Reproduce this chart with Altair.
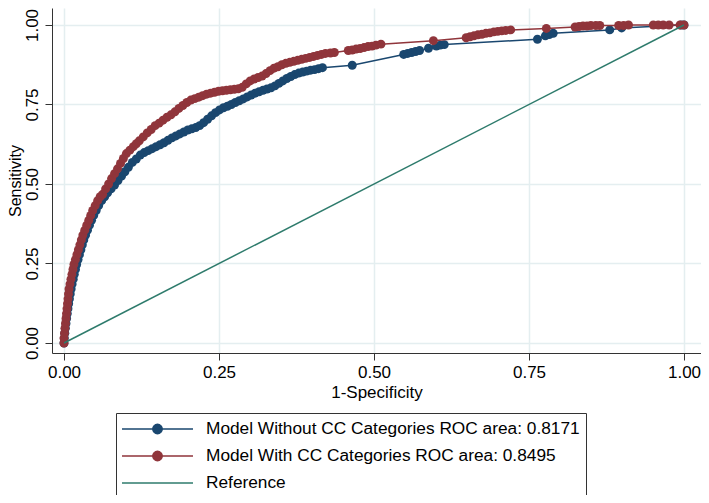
import altair as alt
import pandas as pd

# ROC points: (1-specificity, sensitivity)
without_cc = [
    (0, 0), (0.0005, 0.0154), (0.0013, 0.0309), (0.0021, 0.0463), (0.0032, 0.0617),
    (0.0042, 0.0772), (0.0053, 0.0926), (0.0064, 0.1080), (0.0075, 0.1235), (0.0088, 0.1389),
    (0.0101, 0.1543), (0.0115, 0.1698), (0.0131, 0.1852), (0.0149, 0.2006), (0.0166, 0.2160),
    (0.0185, 0.2315), (0.0204, 0.2469), (0.0227, 0.2623), (0.0249, 0.2778), (0.0272, 0.2932),
    (0.0296, 0.3086), (0.0319, 0.3241), (0.0348, 0.3395), (0.0379, 0.3549), (0.0411, 0.3704),
    (0.0444, 0.3858), (0.0479, 0.4012), (0.0519, 0.4167), (0.0559, 0.4321), (0.0607, 0.4475),
    (0.0655, 0.4599), (0.0703, 0.4722), (0.0759, 0.4846), (0.0815, 0.4969), (0.0871, 0.5108),
    (0.0927, 0.5247), (0.0982, 0.5386), (0.1038, 0.5525), (0.1102, 0.5679), (0.1166, 0.5787),
    (0.1230, 0.5910), (0.1294, 0.5988), (0.1358, 0.6049), (0.1422, 0.6111), (0.1486, 0.6173),
    (0.1550, 0.6235), (0.1613, 0.6296), (0.1677, 0.6373), (0.1741, 0.6451), (0.1805, 0.6512),
    (0.1869, 0.6574), (0.1933, 0.6636), (0.1997, 0.6698), (0.2061, 0.6735), (0.2125, 0.6775),
    (0.2188, 0.6836), (0.2252, 0.6929), (0.2316, 0.7037), (0.2380, 0.7145), (0.2444, 0.7244),
    (0.2508, 0.7330), (0.2572, 0.7398), (0.2636, 0.7444), (0.2700, 0.7500), (0.2764, 0.7562),
    (0.2827, 0.7617), (0.2891, 0.7676), (0.2955, 0.7738), (0.3019, 0.7799), (0.3083, 0.7855),
    (0.3147, 0.7901), (0.3211, 0.7948), (0.3275, 0.7988), (0.3339, 0.8025), (0.3403, 0.8086),
    (0.3466, 0.8164), (0.3530, 0.8241), (0.3594, 0.8318), (0.3658, 0.8380), (0.3722, 0.8441),
    (0.3786, 0.8488), (0.3850, 0.8519), (0.3914, 0.8549), (0.3978, 0.8580), (0.4042, 0.8596),
    (0.4105, 0.8627), (0.4169, 0.8657), (0.4649, 0.8735), (0.5479, 0.9074), (0.5543, 0.9105),
    (0.5607, 0.9136), (0.5671, 0.9167), (0.5735, 0.9198), (0.5879, 0.9269), (0.6006, 0.9336),
    (0.6070, 0.9367), (0.6134, 0.9383), (0.7636, 0.9552), (0.7764, 0.9660), (0.7827, 0.9701),
    (0.7891, 0.9738), (0.8802, 0.9846), (0.8994, 0.9907), (0.9952, 1.0), (1.0, 1.0),
]

with_cc = [
    (0, 0), (0, 0.0154), (0.0008, 0.0309), (0.0016, 0.0463), (0.0024, 0.0617),
    (0.0032, 0.0772), (0.0040, 0.0926), (0.0048, 0.1080), (0.0056, 0.1235), (0.0064, 0.1389),
    (0.0072, 0.1543), (0.0080, 0.1698), (0.0096, 0.1852), (0.0112, 0.2006), (0.0128, 0.2160),
    (0.0144, 0.2315), (0.0160, 0.2469), (0.0184, 0.2623), (0.0208, 0.2778), (0.0232, 0.2932),
    (0.0256, 0.3086), (0.0280, 0.3241), (0.0304, 0.3395), (0.0335, 0.3549), (0.0367, 0.3704),
    (0.0399, 0.3858), (0.0431, 0.4012), (0.0463, 0.4167), (0.0503, 0.4321), (0.0543, 0.4475),
    (0.0583, 0.4599), (0.0623, 0.4676), (0.0671, 0.4846), (0.0719, 0.5000), (0.0767, 0.5170),
    (0.0815, 0.5324), (0.0863, 0.5478), (0.0911, 0.5648), (0.0958, 0.5802), (0.1006, 0.5957),
    (0.1062, 0.6065), (0.1118, 0.6173), (0.1166, 0.6265), (0.1214, 0.6358), (0.1278, 0.6481),
    (0.1342, 0.6605), (0.1406, 0.6713), (0.1470, 0.6836), (0.1534, 0.6914), (0.1597, 0.7006),
    (0.1661, 0.7099), (0.1725, 0.7176), (0.1789, 0.7269), (0.1853, 0.7377), (0.1917, 0.7469),
    (0.1981, 0.7562), (0.2045, 0.7639), (0.2109, 0.7685), (0.2173, 0.7731), (0.2236, 0.7778),
    (0.2300, 0.7824), (0.2364, 0.7855), (0.2428, 0.7886), (0.2492, 0.7917), (0.2556, 0.7932),
    (0.2620, 0.7948), (0.2684, 0.7963), (0.2748, 0.7978), (0.2812, 0.7994), (0.2875, 0.8040),
    (0.2939, 0.8148), (0.3003, 0.8241), (0.3067, 0.8302), (0.3131, 0.8349), (0.3195, 0.8395),
    (0.3259, 0.8472), (0.3323, 0.8565), (0.3387, 0.8642), (0.3450, 0.8688), (0.3514, 0.8750),
    (0.3578, 0.8796), (0.3642, 0.8827), (0.3706, 0.8858), (0.3770, 0.8889), (0.3834, 0.8920),
    (0.3898, 0.8951), (0.3962, 0.8981), (0.4026, 0.9012), (0.4089, 0.9043), (0.4153, 0.9074),
    (0.4217, 0.9105), (0.4297, 0.9120), (0.4361, 0.9136), (0.4585, 0.9198), (0.4649, 0.9213),
    (0.4712, 0.9244), (0.4776, 0.9259), (0.4840, 0.9290), (0.4904, 0.9321), (0.4968, 0.9336),
    (0.5032, 0.9367), (0.5112, 0.9398), (0.5958, 0.9506), (0.6486, 0.9599), (0.6550, 0.9630),
    (0.6613, 0.9660), (0.6677, 0.9691), (0.6741, 0.9707), (0.6805, 0.9738), (0.6869, 0.9753),
    (0.6933, 0.9784), (0.6997, 0.9799), (0.7061, 0.9815), (0.7125, 0.9830), (0.7204, 0.9846),
    (0.7780, 0.9892), (0.8243, 0.9938), (0.8307, 0.9954), (0.8371, 0.9969), (0.8435, 0.9969),
    (0.8498, 0.9985), (0.8578, 0.9985), (0.8642, 0.9985), (0.8946, 0.9985), (0.9026, 0.9985),
    (0.9105, 1.0), (0.9505, 1.0), (0.9585, 1.0), (0.9665, 1.0), (0.9760, 1.0), (0.9936, 1.0),
    (1.0, 1.0),
]

reference = [(0, 0), (1, 1)]

series_names = [
    "Model Without CC Categories ROC area: 0.8171",
    "Model With CC Categories ROC area: 0.8495",
    "Reference",
]
series_colors = ["#1a476f", "#90353b", "#2e7b6c"]
tick_values = [0, 0.25, 0.5, 0.75, 1.0]

rows = []
for name, pts in zip(series_names, [without_cc, with_cc, reference]):
    for i, (fx, ty) in enumerate(pts):
        rows.append({"series": name, "fpr": fx, "tpr": ty, "idx": i})
df = pd.DataFrame(rows)

FONT = "Liberation Sans"
GRID = "#e4eef0"
AX = "#333333"

x_enc = alt.X(
    "fpr:Q",
    scale=alt.Scale(domain=[-0.019355, 1.027419], nice=False, zero=False),
    axis=alt.Axis(
        values=tick_values, format=".2f", title="1-Specificity",
        grid=True, gridColor=GRID, gridWidth=1.5,
        domainColor=AX, tickColor=AX, tickSize=7,
        labelFontSize=17, titleFontSize=17, labelFont=FONT, titleFont=FONT,
        titleFontWeight="normal", labelColor="black", titleColor="black",
        labelPadding=4, titlePadding=4,
    ),
)
y_enc = alt.Y(
    "tpr:Q",
    scale=alt.Scale(domain=[-0.03145, 1.05346], nice=False, zero=False),
    axis=alt.Axis(
        values=tick_values, format=".2f", title="Sensitivity",
        grid=True, gridColor=GRID, gridWidth=1.5,
        domainColor=AX, tickColor=AX, tickSize=7,
        labelFontSize=17, titleFontSize=16, labelFont=FONT, titleFont=FONT,
        titleFontWeight="normal", labelColor="black", titleColor="black",
        labelAngle=270, labelAlign="center", labelBaseline="bottom",
        labelPadding=4, titlePadding=0,
    ),
)

marker_path = ("M-3.944,0L3.944,0M-0.522,0A0.522,0.522,0,1,0,0.522,0"
               "A0.522,0.522,0,1,0,-0.522,0Z")
line_path = "M-3.944,0L3.944,0"
shape_expr = "datum.value === 'Reference' ? '%s' : '%s'" % (line_path, marker_path)

legend = alt.Legend(
    title=None, orient="none", legendX=64, legendY=405, direction="vertical",
    columns=1, padding=6, rowPadding=8,
    strokeColor="#333333", fillColor="white",
    symbolSize=324, symbolStrokeWidth=1.5, symbolOffset=25.5,
    symbolType={"expr": shape_expr}, symbolOpacity=1,
    labelOffset=38.5, labelFontSize=17.3, labelFont=FONT, labelColor="black",
    labelLimit=600,
)
color_enc = alt.Color(
    "series:N", scale=alt.Scale(domain=series_names, range=series_colors),
    legend=legend,
)

layers = []
for name in series_names:
    base = alt.Chart(df).transform_filter(alt.datum.series == name)
    if name != "Reference":
        layers.append(
            base.mark_circle(size=80, opacity=1).encode(
                x=x_enc, y=y_enc, color=color_enc
            )
        )
    layers.append(
        base.mark_line(strokeWidth=1.5).encode(
            x=x_enc, y=y_enc, color=color_enc, order="idx:Q"
        )
    )

chart = alt.layer(*layers).properties(
    width=649, height=345,
    autosize=alt.AutoSizeParams(type="none"),
    padding={"left": 44, "top": 0, "right": 0, "bottom": 142},
    background="white",
).configure_view(stroke=None)

chart.save("out.html", embed_options={"renderer": "svg", "actions": False})
